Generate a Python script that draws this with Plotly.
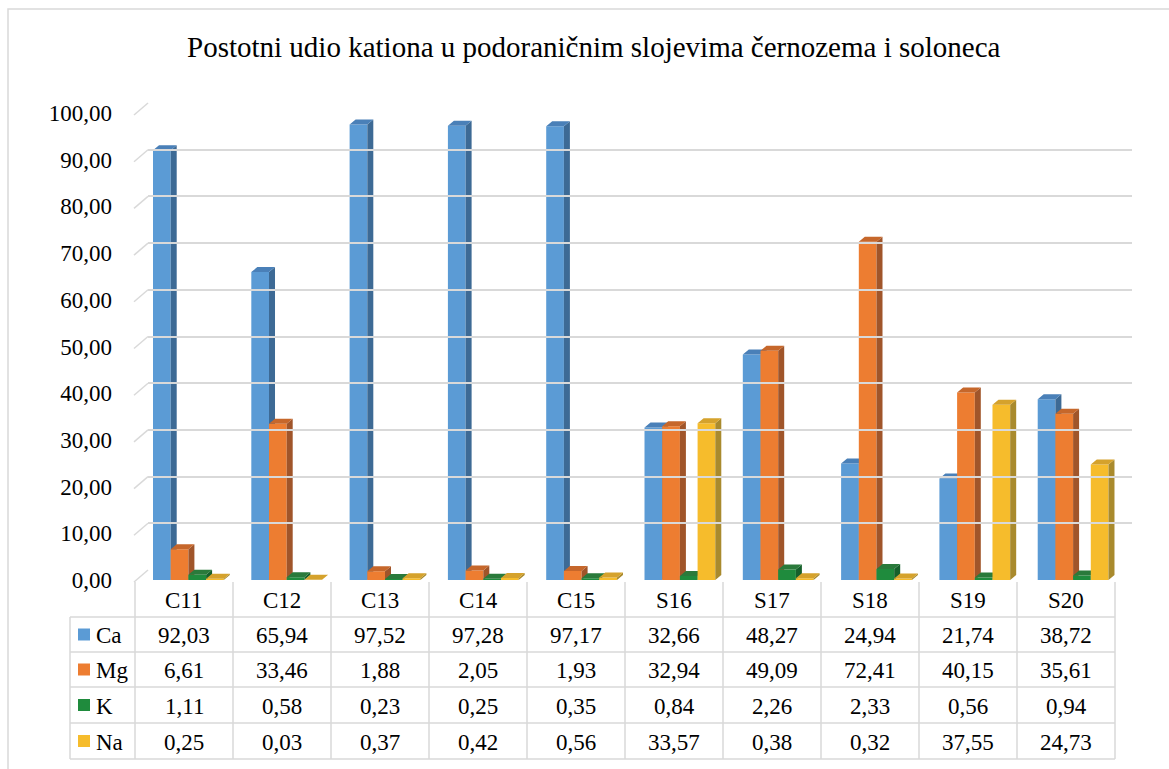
import plotly.graph_objects as go

W, H = 1169, 769

categories = ["C11", "C12", "C13", "C14", "C15", "S16", "S17", "S18", "S19", "S20"]
series_names = ["Ca", "Mg", "K", "Na"]
ca = [92.03, 65.94, 97.52, 97.28, 97.17, 32.66, 48.27, 24.94, 21.74, 38.72]
mg = [6.61, 33.46, 1.88, 2.05, 1.93, 32.94, 49.09, 72.41, 40.15, 35.61]
k = [1.11, 0.58, 0.23, 0.25, 0.35, 0.84, 2.26, 2.33, 0.56, 0.94]
na = [0.25, 0.03, 0.37, 0.42, 0.56, 33.57, 0.38, 0.32, 37.55, 24.73]
series_values = [ca, mg, k, na]
y_ticks = list(range(0, 101, 10))
title_text = "Postotni udio kationa u podoraničnim slojevima černozema i soloneca"

front_colors = ["#5b9bd5", "#ed7d31", "#1f8b3d", "#f6bc2c"]
side_colors = ["#3d6a95", "#a0552a", "#16602b", "#a98a2d"]
top_colors = ["#4a80b8", "#c6672b", "#2a7a3b", "#d5a22c"]

FONT = "Liberation Serif, Times New Roman, serif"


def px(x):
    return x / W


def py(y):
    return 1 - y / H


# geometry (pixels)
BAR_X0, BAR_PITCH = 139.25, 98.3
FRONT_Y0, FRONT_Y100 = 580, 113
BACK_X0, BACK_X1 = 148, 1132
BACK_Y0, BACK_Y100 = 570, 103
TAB_X0, TAB_X1, TAB_LEFT = 135, 1115, 70
ROW_LINES = [582, 617, 652, 687, 723, 759]

bar_w = 0.18
ddx = 6 / BAR_PITCH
ddy = 5 / ((FRONT_Y0 - FRONT_Y100) / 100)

fig = go.Figure()

for s, vals in enumerate(series_values):
    fx, fy, sx, sy, tx, ty = [], [], [], [], [], []
    for i, v in enumerate(vals):
        xl = i + (s - 2) * bar_w
        xr = xl + bar_w
        fx += [xl, xr, xr, xl, xl, None]
        fy += [0, 0, v, v, 0, None]
        sx += [xr, xr + ddx, xr + ddx, xr, xr, None]
        sy += [0, ddy, v + ddy, v, 0, None]
        tx += [xl, xr, xr + ddx, xl + ddx, xl, None]
        ty += [v, v, v + ddy, v + ddy, v, None]
    for xs, ys, col in ((fx, fy, front_colors[s]), (sx, sy, side_colors[s]), (tx, ty, top_colors[s])):
        fig.add_trace(go.Scatter(
            x=xs, y=ys, mode="lines", fill="toself", fillcolor=col,
            line=dict(width=0, color=col), hoverinfo="skip",
            showlegend=False, xaxis="x", yaxis="y", name=series_names[s]))

# invisible trace for back-wall subplot
fig.add_trace(go.Scatter(x=[0], y=[0], mode="markers", marker=dict(opacity=0),
                         hoverinfo="skip", showlegend=False, xaxis="x2", yaxis="y2"))

shapes = []
# outer frame
shapes.append(dict(type="rect", xref="paper", yref="paper", x0=px(8), y0=py(9), x1=1.02, y1=-0.02,
                   line=dict(color="#d9d9d9", width=1.5), layer="below"))
# left wall diagonals
for t in y_ticks:
    yf = FRONT_Y0 - (FRONT_Y0 - FRONT_Y100) * t / 100
    yb = BACK_Y0 - (BACK_Y0 - BACK_Y100) * t / 100
    shapes.append(dict(type="line", xref="paper", yref="paper", x0=px(TAB_X0 - 1), y0=py(yf + 2),
                       x1=px(BACK_X0), y1=py(yb), line=dict(color="#d9d9d9", width=1.5), layer="below"))

# table
col_w = (TAB_X1 - TAB_X0) / len(categories)
for j in range(len(categories) + 1):
    xx = TAB_X0 + j * col_w
    shapes.append(dict(type="line", xref="paper", yref="paper", x0=px(xx), x1=px(xx),
                       y0=py(ROW_LINES[0]), y1=py(ROW_LINES[-1]), line=dict(color="#d9d9d9", width=1.5)))
shapes.append(dict(type="line", xref="paper", yref="paper", x0=px(TAB_LEFT), x1=px(TAB_LEFT),
                   y0=py(ROW_LINES[1]), y1=py(ROW_LINES[-1]), line=dict(color="#d9d9d9", width=1.5)))
for r in ROW_LINES[1:]:
    shapes.append(dict(type="line", xref="paper", yref="paper", x0=px(TAB_LEFT), x1=px(TAB_X1),
                       y0=py(r), y1=py(r), line=dict(color="#d9d9d9", width=1.5)))

annotations = []
annotations.append(dict(text=title_text, xref="paper", yref="paper", x=px(594), y=py(47),
                        xanchor="center", yanchor="middle", showarrow=False,
                        font=dict(family=FONT, size=29, color="#000000")))


def fmt(v):
    return f"{v:.2f}".replace(".", ",")


hdr_c = (ROW_LINES[0] + ROW_LINES[1]) / 2
for j, c in enumerate(categories):
    annotations.append(dict(text=c, xref="paper", yref="paper", x=px(TAB_X0 + (j + 0.5) * col_w),
                            y=py(hdr_c + 1), xanchor="center", yanchor="middle", showarrow=False,
                            font=dict(family=FONT, size=23, color="#000000")))
for s, vals in enumerate(series_values):
    rc = (ROW_LINES[s + 1] + ROW_LINES[s + 2]) / 2
    shapes.append(dict(type="rect", xref="paper", yref="paper", x0=px(78), x1=px(90),
                       y0=py(rc - 6), y1=py(rc + 6), fillcolor=front_colors[s], line=dict(width=0)))
    annotations.append(dict(text=series_names[s], xref="paper", yref="paper", x=px(94), y=py(rc + 1),
                            xanchor="left", yanchor="middle", showarrow=False,
                            font=dict(family=FONT, size=23, color="#000000")))
    for j, v in enumerate(vals):
        annotations.append(dict(text=fmt(v), xref="paper", yref="paper", x=px(TAB_X0 + (j + 0.5) * col_w),
                                y=py(rc + 1), xanchor="center", yanchor="middle", showarrow=False,
                                font=dict(family=FONT, size=23, color="#000000")))

fig.update_layout(
    width=W, height=H, margin=dict(l=0, r=0, t=0, b=0, pad=0, autoexpand=False),
    paper_bgcolor="white", plot_bgcolor="rgba(0,0,0,0)",
    separators=",.",
    showlegend=False,
    xaxis=dict(domain=[px(BAR_X0), px(BAR_X0 + BAR_PITCH * len(categories))], range=[-0.5, 9.5],
               visible=False, fixedrange=True, automargin=False),
    yaxis=dict(domain=[py(FRONT_Y0), py(FRONT_Y100)], range=[0, 100], showgrid=False, zeroline=False,
               tickvals=y_ticks, tickformat=".2f", ticks="", showline=False, anchor="free",
               position=px(112), tickfont=dict(family=FONT, size=23, color="#000000"), fixedrange=True,
               automargin=False),
    xaxis2=dict(domain=[px(BACK_X0), px(BACK_X1)], range=[0, 1], visible=False, anchor="y2",
                fixedrange=True, automargin=False),
    yaxis2=dict(domain=[py(BACK_Y0), py(BACK_Y100)], range=[0, 100], showgrid=True, gridcolor="#d9d9d9",
                gridwidth=2, dtick=10, showticklabels=False, zeroline=False, showline=False,
                anchor="x2", fixedrange=True, automargin=False),
    shapes=shapes,
    annotations=annotations,
)

fig.write_html("out.html", config={"displayModeBar": False},
               post_script="document.body.style.margin='0';document.body.style.overflow='hidden';")
